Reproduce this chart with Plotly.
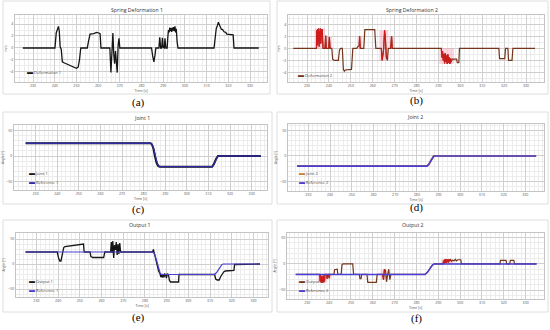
import numpy as np
import plotly.graph_objects as go
from plotly.subplots import make_subplots

W, H = 550, 330

# ---------------- data ----------------
# (a) Spring Deformation 1  [mm]
sd1_t = [225.3, 240.1, 240.7, 241.3, 241.7, 242.1, 242.5, 243.0, 243.5, 244.5, 246.5, 248.5, 250.0, 250.8,
         251.4, 252.0, 255.0, 255.6, 256.3, 258.0, 259.3, 260.3, 260.9, 261.3, 265.4, 265.9, 266.4, 266.8,
         267.2, 267.6, 268.0, 268.4, 268.8, 269.2, 269.6, 270.0, 284.6, 285.2, 285.7, 286.2, 286.6, 288.0,
         288.4, 288.8, 289.3, 289.6, 290.0, 290.5, 290.8, 291.2, 291.8, 292.1, 292.4, 292.7, 293.0, 293.3,
         293.6, 293.9, 294.2, 294.5, 294.8, 295.1, 295.4, 295.7, 296.0, 296.4, 296.8, 313.4, 313.9, 314.4,
         315.0, 315.4, 315.8, 316.3, 316.8, 317.3, 318.0, 318.8, 319.3, 322.2, 322.6, 334.0]
sd1_v = [0, 0, 2.5, 3.5, 3.6, 2.8, 0.2, -0.2, -2.3, -2.5, -2.8, -3.2, -3.4, -3.2,
         -2.0, 0, 0, 1.2, 2.3, 2.4, 2.6, 2.5, 2.4, 0, 0, -4.1, 0.5, 2.5,
         -1.0, -2.6, -0.5, -2.2, -4.1, 0.4, 1.6, 0, 0, -1.5, -2.3, -1.2, 0, 0,
         1.8, 0, 0, 1.7, 0.1, 0, 1.6, 0, 0, 1.8, 3.0, 2.6, 3.4, 2.8,
         3.3, 2.7, 3.4, 2.9, 3.5, 2.8, 3.6, 2.6, 3.2, 1.0, 0, 0, 2.0, 3.2,
         3.8, 4.3, 3.9, 3.6, 3.1, 3.1, 2.7, 2.6, 2.3, 2.2, 0, 0]

# (b) Spring Deformation 2  [mm]
sd2_t = [223.7, 234.3, 234.5, 234.7, 234.9, 235.1, 235.3, 235.5, 235.7, 235.9, 236.1, 236.3, 236.5, 236.7,
         236.9, 237.1, 237.3, 238.2, 238.5, 238.8, 239.9, 240.2, 240.5, 241.3, 241.7, 242.4, 244.3, 244.8,
         245.3, 246.1, 246.6, 247.0, 247.5, 250.3, 250.9, 252.7, 253.2, 253.8, 254.0, 254.3, 255.9, 256.4,
         260.9, 261.4, 263.9, 264.3, 264.7, 265.0, 265.4, 265.8, 266.2, 266.7, 267.1, 268.2, 268.6, 268.9,
         291.3, 291.6, 291.9, 292.2, 292.5, 292.8, 293.1, 293.4, 293.7, 294.0, 294.3, 294.6, 294.9, 295.2,
         295.5, 295.8, 296.2, 298.3, 298.6, 299.3, 299.6, 317.6, 317.9, 320.3, 320.6, 321.7, 322.0, 323.6,
         324.0, 334.1]
sd2_v = [0, 0, 3.0, 0.5, 3.2, 1.0, 3.3, 0.3, 2.8, 1.5, 3.3, 0.8, 3.1, 2.0,
         3.2, 0.5, 0, 0, 2.1, 0, 0, 1.9, 0, 0, -1.8, -2.0, -2.0, -0.3,
         0, 0, -3.5, -3.8, -3.6, -3.5, 0, 0, 0.3, 0.4, 2.0, 0, 0, 3.1,
         3.1, 0, 0, -2.0, -1.0, 0, 3.0, 1.5, -1.5, -2.0, 0, 0, 2.0, 0,
         0, -1.5, -0.5, -2.0, -1.0, -2.5, -0.8, -2.2, -1.2, -2.6, -1.0, -2.4, -1.5, -2.6,
         -1.7, -2.3, -1.8, -1.8, -2.4, -2.4, 0, 0, -1.7, -1.7, 0, 0, -2.0, -2.0,
         0, 0]

# (c) Joint 1 / Reference 1  [deg]
j1_t = [225.4, 283.2, 283.8, 284.5, 285.2, 286.0, 286.8, 287.5, 311.7, 312.5, 313.5, 314.4, 334.3]
j1_v = [25, 25, 23, 15, 0, -14, -20, -21, -21, -16, -6, 0, 0]
r1c_t = [225.4, 283.3, 284.0, 284.8, 285.6, 286.4, 287.2, 287.8, 311.8, 312.7, 313.7, 314.5, 334.3]
r1c_v = [25, 25, 22, 12, -3, -15, -20.5, -21, -21, -15, -5, 0, 0]

# (d) Joint 2 / Reference 2  [deg]
j2_t = [224.8, 225.3, 284.7, 285.5, 286.5, 287.3, 287.8, 335.0]
j2_v = [-19, -20, -20, -17, -9, -2, 0, 0]
r2d_t = [224.8, 284.6, 285.4, 286.4, 287.2, 287.8, 335.0]
r2d_v = [-20, -20, -17, -9, -2, 0, 0]

# (e) Output 1 / Reference 1  [deg]
o1_t = [225.0, 239.6, 240.2, 240.8, 241.3, 241.8, 242.2, 242.6, 243.2, 246.0, 249.0, 251.0, 251.7, 252.0,
        254.7, 255.1, 256.0, 261.0, 261.5, 264.2, 264.5, 264.9, 265.2, 265.6, 266.0, 266.4, 266.8, 267.2,
        267.6, 268.0, 268.4, 268.8, 283.5, 283.9, 284.3, 284.8, 285.5, 286.3, 287.0, 287.3, 287.6, 288.0,
        288.3, 288.8, 289.1, 289.5, 289.9, 290.3, 290.8, 291.3, 291.8, 294.5, 295.5, 295.7, 296.0, 312.1,
        312.6, 313.3, 314.2, 314.8, 315.5, 316.3, 317.0, 321.0, 321.3, 333.0]
o1_v = [24, 24, 12, 6, 6, 20, 24, 33, 35, 37, 39, 40, 40, 24,
        24, 15, 13, 13, 24, 24, 44, 22, 46, 12, 38, 28, 44, 18,
        40, 20, 42, 24, 24, 29, 22, 12, -2, -14, -20, -26, -20, -27,
        -20, -27, -20, -21, -28, -20, -21, -33, -36, -37, -36, -20, -21, -21,
        -30, -32, -32, -26, -20, -16, -14, -13, -1, 0]
r1e_t = [225.0, 283.5, 284.5, 285.5, 286.3, 287.0, 287.5, 312.1, 313.0, 314.5, 315.5, 316.2, 333.0]
r1e_v = [24, 24, 20, 5, -10, -18, -21, -21, -17, -6, -1, 0, 0]

# (f) Output 2 / Reference 2  [deg]
o2_t = [224.7, 235.7, 235.9, 236.1, 236.3, 236.5, 236.7, 236.9, 237.1, 237.3, 237.5, 237.7, 237.9, 238.1,
        238.8, 239.1, 239.4, 239.8, 240.0, 240.3, 242.2, 242.5, 243.7, 244.0, 245.5, 245.9, 246.5, 250.8,
        251.2, 253.8, 254.1, 254.6, 254.9, 257.3, 257.7, 261.6, 262.0, 264.5, 264.9, 265.3, 265.8, 266.3,
        266.8, 267.3, 267.8, 268.3, 283.9, 285.0, 286.3, 287.3, 288.2, 292.2, 292.4, 292.6, 292.8, 293.0,
        293.2, 293.4, 293.6, 293.8, 294.0, 294.2, 294.4, 294.7, 295.0, 295.3, 295.6, 296.0, 296.5, 297.3,
        297.8, 298.3, 299.0, 300.3, 300.6, 318.2, 318.5, 321.0, 321.3, 322.7, 323.0, 324.6, 324.9, 335.0]
o2_v = [-20, -20, -33, -22, -35, -24, -36, -25, -34, -22, -35, -26, -33, -20,
        -20, -28, -20, -20, -27, -20, -20, -11, -10, -20, -20, -1, 0, 0,
        -20, -20, -28, -28, -20, -20, -35, -35, -20, -20, -30, -11, -12, -34,
        -20, -10, -30, -20, -20, -16, -8, -2, 0, 0, 6, 1, 8, 2,
        9, 3, 8, 2, 9, 4, 8, 3, 9, 6, 8, 5, 7, 6,
        9, 6, 8, 8, 0, 0, 7, 7, 0, 0, 7, 7, 0, 0]
r2f_t = [224.7, 283.9, 285.0, 286.3, 287.3, 288.2, 335.0]
r2f_v = [-20, -20, -16, -8, -2, 0, 0]

x_ticks = [230, 240, 250, 260, 270, 280, 290, 300, 310, 320, 330]

# ---------------- layout helpers ----------------
def fx(p):
    return p / W

def fy(p):
    return 1 - p / H

def clusters(t, gap=0.45, minlen=3):
    """Index groups of densely sampled (noisy) stretches of a series."""
    out, start = [], 0
    for i in range(1, len(t) + 1):
        if i == len(t) or t[i] - t[i - 1] > gap:
            if i - start >= minlen:
                out.append(list(range(start, i)))
            start = i
    return out

def envelope_polys(t, v, pad=0.9):
    t = np.asarray(t, float)
    v = np.asarray(v, float)
    xs, ys = [], []
    for idx in clusters(t):
        a, b = t[idx[0]] - pad, t[idx[-1]] + pad
        hi, lo = v[idx].max(), v[idx].min()
        xs += [a, b, b, a, a, None]
        ys += [hi, hi, lo, lo, hi, None]
    return xs, ys

def noisy_parts(t, v):
    xs, ys = [], []
    for idx in clusters(t):
        xs += [t[k] for k in idx] + [None]
        ys += [v[k] for k in idx] + [None]
    return xs, ys

fig = make_subplots(rows=3, cols=2)

BLACK = "#151515"
BROWN = "#74351a"
RED = "#d41a1a"
BLUE1 = "#2f2a9e"
BLUE2 = "#4a3fd2"
ORANGE = "#c8803a"
PINK = "rgba(255,120,150,0.30)"

def add_env(t, v, r, c):
    xs, ys = envelope_polys(t, v)
    fig.add_trace(go.Scatter(x=xs, y=ys, mode="lines", line=dict(width=0, color=PINK),
                             fill="toself", fillcolor=PINK, showlegend=False, hoverinfo="skip"),
                  row=r, col=c)

def add_noise(t, v, r, c):
    xs, ys = noisy_parts(t, v)
    fig.add_trace(go.Scatter(x=xs, y=ys, mode="lines", line=dict(width=1.0, color=RED),
                             showlegend=False, hoverinfo="skip"), row=r, col=c)

# (a)
fig.add_trace(go.Scatter(x=sd1_t, y=sd1_v, mode="lines", name="Deformation 1",
                         line=dict(color=BLACK, width=1.3), showlegend=False), row=1, col=1)
# (b)
add_env(sd2_t, sd2_v, 1, 2)
fig.add_trace(go.Scatter(x=sd2_t, y=sd2_v, mode="lines", name="Deformation 2",
                         line=dict(color=BROWN, width=1.2), showlegend=False), row=1, col=2)
add_noise(sd2_t, sd2_v, 1, 2)
# (c)
fig.add_trace(go.Scatter(x=j1_t, y=j1_v, mode="lines", name="Joint 1",
                         line=dict(color=BLACK, width=2), showlegend=False), row=2, col=1)
fig.add_trace(go.Scatter(x=r1c_t, y=r1c_v, mode="lines", name="Reference 1",
                         line=dict(color=BLUE1, width=1.3), showlegend=False), row=2, col=1)
# (d)
fig.add_trace(go.Scatter(x=j2_t, y=j2_v, mode="lines", name="Joint 2",
                         line=dict(color=ORANGE, width=2), showlegend=False), row=2, col=2)
fig.add_trace(go.Scatter(x=r2d_t, y=r2d_v, mode="lines", name="Reference 2",
                         line=dict(color=BLUE2, width=1.6), showlegend=False), row=2, col=2)
# (e)
fig.add_trace(go.Scatter(x=o1_t, y=o1_v, mode="lines", name="Output 1",
                         line=dict(color=BLACK, width=1.3), showlegend=False), row=3, col=1)
fig.add_trace(go.Scatter(x=r1e_t, y=r1e_v, mode="lines", name="Reference 1",
                         line=dict(color=BLUE2, width=1.2), showlegend=False), row=3, col=1)
# (f)
add_env(o2_t, o2_v, 3, 2)
fig.add_trace(go.Scatter(x=o2_t, y=o2_v, mode="lines", name="Output 2",
                         line=dict(color=BROWN, width=1.2), showlegend=False), row=3, col=2)
add_noise(o2_t, o2_v, 3, 2)
fig.add_trace(go.Scatter(x=r2f_t, y=r2f_v, mode="lines", name="Reference 2",
                         line=dict(color=BLUE2, width=1.5), showlegend=False), row=3, col=2)

panels = [
    dict(dx=(15, 267), dy=(15, 82), xr=(221.7, 337.8), yr=(-5.67, 5.5), ydt=2, ymin=1, ylab="mm",
         title="Spring Deformation 1", txy=(137, 10), lab="(a)", lxy=(138, 102), card=(3, 1, 270, 94),
         leg=[("Deformation 1", BLACK)], legxy=(25, 72)),
    dict(dx=(288, 544), dy=(15, 82), xr=(221.3, 338.2), yr=(-5.6, 5.55), ydt=2, ymin=1, ylab="mm",
         title="Spring Deformation 2", txy=(412, 10), lab="(b)", lxy=(416, 101), card=(277, 1, 548, 94),
         leg=[("Deformation 2", BROWN)], legxy=(296, 75)),
    dict(dx=(14, 267), dy=(125, 190), xr=(220.0, 337.1), yr=(-66.7, 60.8), ydt=50, ymin=10, ylab="Angle [°]",
         title="Joint 1", txy=(142, 118), lab="(c)", lxy=(138, 209), card=(3, 112, 272, 204),
         leg=[("Joint 1", BLACK), ("Reference 1", BLUE1)], legxy=(27, 172.5)),
    dict(dx=(288, 544), dy=(124, 191), xr=(220.6, 338.6), yr=(-69.2, 63.2), ydt=50, ymin=10, ylab="Angle [°]",
         title="Joint 2", txy=(415, 117), lab="(d)", lxy=(416, 207), card=(277, 112, 548, 204),
         leg=[("Joint 2", ORANGE), ("Reference 2", BLUE2)], legxy=(297, 172.5)),
    dict(dx=(16, 268), dy=(233, 297), xr=(220.6, 336.7), yr=(-66, 62), ydt=50, ymin=10, ylab="Angle [°]",
         title="Output 1", txy=(140, 225), lab="(e)", lxy=(138, 317), card=(3, 220, 272, 312),
         leg=[("Output 1", BLACK), ("Reference 1", BLUE2)], legxy=(27, 281)),
    dict(dx=(287, 544), dy=(233, 299), xr=(220.7, 338.4), yr=(-66.8, 59), ydt=50, ymin=10, ylab="Angle [°]",
         title="Output 2", txy=(413, 225), lab="(f)", lxy=(416, 318), card=(277, 220, 548, 312),
         leg=[("Output 2", BROWN), ("Reference 2", BLUE2)], legxy=(297, 281)),
]

TICKFONT = dict(family="Open Sans", size=3.6, color="#555555")
shapes = []
annotations = []
for i, p in enumerate(panels, start=1):
    xa = "xaxis" if i == 1 else f"xaxis{i}"
    ya = "yaxis" if i == 1 else f"yaxis{i}"
    fig.layout[xa].update(
        domain=[fx(p["dx"][0]), fx(p["dx"][1])], range=list(p["xr"]),
        tickmode="array", tickvals=x_ticks, ticktext=[str(v) for v in x_ticks],
        showgrid=True, gridcolor="#cfcfcf", gridwidth=1,
        minor=dict(dtick=2, tick0=0, showgrid=True, gridcolor="#ececec", gridwidth=1),
        showline=True, mirror=True, linecolor="#c4c4c4", linewidth=1,
        zeroline=False, ticks="", tickfont=TICKFONT,
        title=dict(text="Time [s]", font=dict(family="Open Sans", size=3.6, color="#555555"), standoff=1),
    )
    fig.layout[ya].update(
        domain=[fy(p["dy"][1]), fy(p["dy"][0])], range=list(p["yr"]),
        dtick=p["ydt"], tick0=0,
        showgrid=True, gridcolor="#cfcfcf", gridwidth=1,
        minor=dict(dtick=p["ymin"], tick0=0, showgrid=True, gridcolor="#ececec", gridwidth=1),
        showline=True, mirror=True, linecolor="#c4c4c4", linewidth=1,
        zeroline=False, ticks="", tickfont=TICKFONT,
        title=dict(text=p["ylab"], font=dict(family="Open Sans", size=3.3, color="#555555"), standoff=2),
    )
    x0, y0, x1, y1 = p["card"]
    shapes.append(dict(type="rect", xref="paper", yref="paper", layer="below",
                       x0=fx(x0), x1=fx(x1), y0=fy(y1), y1=fy(y0),
                       line=dict(color="#dedede", width=1), fillcolor="white"))
    annotations.append(dict(xref="paper", yref="paper", x=fx(p["txy"][0]), y=fy(p["txy"][1]),
                            text=p["title"], showarrow=False, xanchor="center", yanchor="middle",
                            font=dict(family="Open Sans", size=5.2, color="#333333")))
    annotations.append(dict(xref="paper", yref="paper", x=fx(p["lxy"][0]), y=fy(p["lxy"][1]),
                            text=p["lab"], showarrow=False, xanchor="center", yanchor="middle",
                            font=dict(family="Liberation Serif", size=11, color="#000000")))
    lx, ly = p["legxy"]
    for k, (name, col) in enumerate(p["leg"]):
        annotations.append(dict(xref="paper", yref="paper", x=fx(lx), y=fy(ly + k * 9),
                                text=f'<span style="color:{col};font-size:6px">▬</span> {name}',
                                showarrow=False, xanchor="left", yanchor="middle",
                                font=dict(family="Open Sans", size=4, color="#444444")))

fig.update_layout(
    width=W, height=H, margin=dict(l=0, r=0, t=0, b=0),
    paper_bgcolor="white", plot_bgcolor="white",
    showlegend=False, shapes=shapes, annotations=annotations,
    font=dict(family="Open Sans"),
)

fig.write_html("out.html", config={"displayModeBar": False},
               post_script="document.body.style.margin='0px';document.body.style.padding='0px';")
